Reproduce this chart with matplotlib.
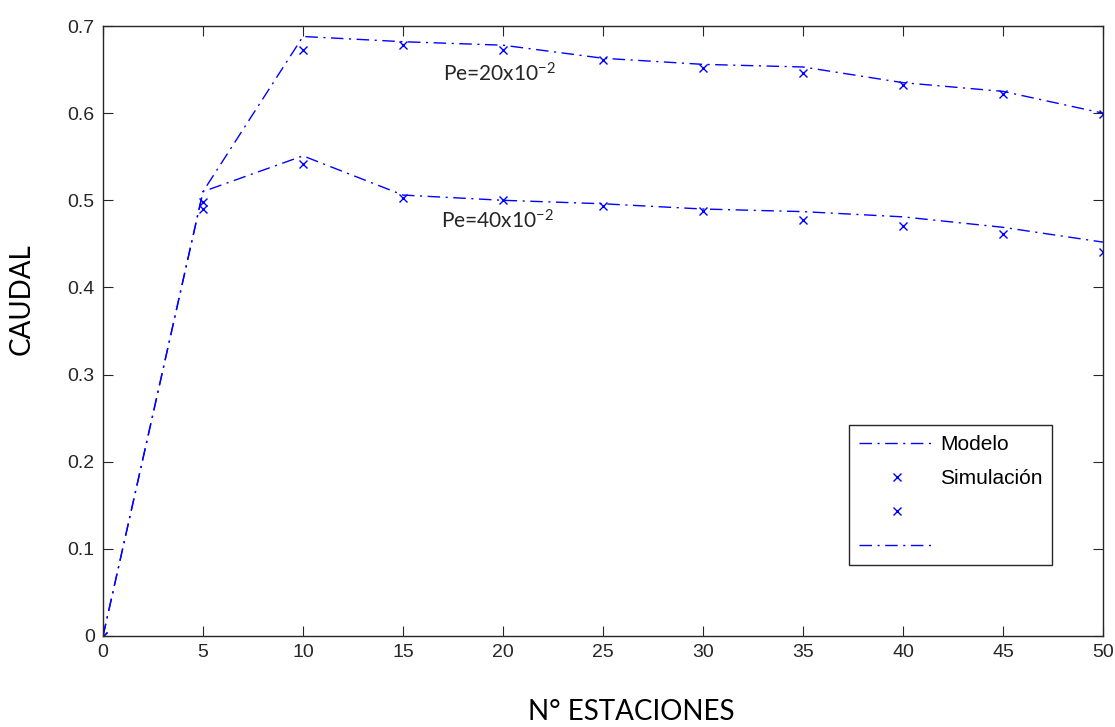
import numpy as np
import matplotlib.pyplot as plt

plt.rcParams['font.family'] = ['Liberation Sans', 'DejaVu Sans']
plt.rcParams['mathtext.default'] = 'regular'

# number of stations
estaciones = [0, 5, 10, 15, 20, 25, 30, 35, 40, 45, 50]

# Pe = 20e-2
modelo_pe20 = [0, 0.510, 0.688, 0.682, 0.678, 0.663, 0.656, 0.653, 0.635, 0.625, 0.600]
sim_pe20 = [0, 0.490, 0.672, 0.678, 0.673, 0.661, 0.652, 0.646, 0.632, 0.622, 0.599]

# Pe = 40e-2
modelo_pe40 = [0, 0.510, 0.551, 0.506, 0.500, 0.496, 0.490, 0.487, 0.481, 0.469, 0.452]
sim_pe40 = [0, 0.498, 0.542, 0.503, 0.500, 0.493, 0.488, 0.477, 0.471, 0.461, 0.441]

blue = '#0000ff'
dashdot = (0, (9, 4, 1.5, 4))

fig = plt.figure(figsize=(11.15, 7.27), dpi=100)
ax = fig.add_axes([0.0924, 0.1252, 0.8968, 0.839])

l1, = ax.plot(estaciones, modelo_pe20, color=blue, lw=1.0, linestyle=dashdot)
s1, = ax.plot(estaciones, sim_pe20, 'x', color=blue, ms=6, mew=1.0)
s2, = ax.plot(estaciones, sim_pe40, 'x', color=blue, ms=6, mew=1.0)
l2, = ax.plot(estaciones, modelo_pe40, color=blue, lw=1.0, linestyle=dashdot)

ax.text(17.0, 0.645, 'Pe=20x10$^{-2}$', fontsize=15, family='Lato', va='center', color='#262626')
ax.text(16.9, 0.476, 'Pe=40x10$^{-2}$', fontsize=15, family='Lato', va='center', color='#262626')

ax.set_xlim(0, 50)
ax.set_ylim(0, 0.7)
ax.set_xticks(np.arange(0, 51, 5))
ax.set_yticks(np.arange(0, 0.71, 0.1))
ax.set_yticklabels(['0', '0.1', '0.2', '0.3', '0.4', '0.5', '0.6', '0.7'])
ax.tick_params(direction='in', length=7, width=0.8, top=True, right=True,
               labelsize=14, colors='#262626', pad=6)
for sp in ax.spines.values():
    sp.set_color('#262626')
    sp.set_linewidth(1.0)

ax.set_xlabel('N° ESTACIONES', fontsize=20, family='Lato', va='center')
ax.xaxis.set_label_coords(0.528, -0.125)
ax.set_ylabel('CAUDAL', fontsize=20, family='Lato', va='center')
ax.yaxis.set_label_coords(-0.081, 0.552)

leg = ax.legend([l1, s1, s2, l2], ['Modelo', 'Simulación', '', ''],
                loc='lower right', bbox_to_anchor=(0.949, 0.116), fontsize=15,
                handlelength=3.7, handletextpad=0.2, labelspacing=0.72,
                markerscale=0.85, fancybox=False, framealpha=1,
                edgecolor='#262626', borderpad=0.45, borderaxespad=0)
leg.get_frame().set_linewidth(1.0)

fig.savefig('out.png', dpi=100)
